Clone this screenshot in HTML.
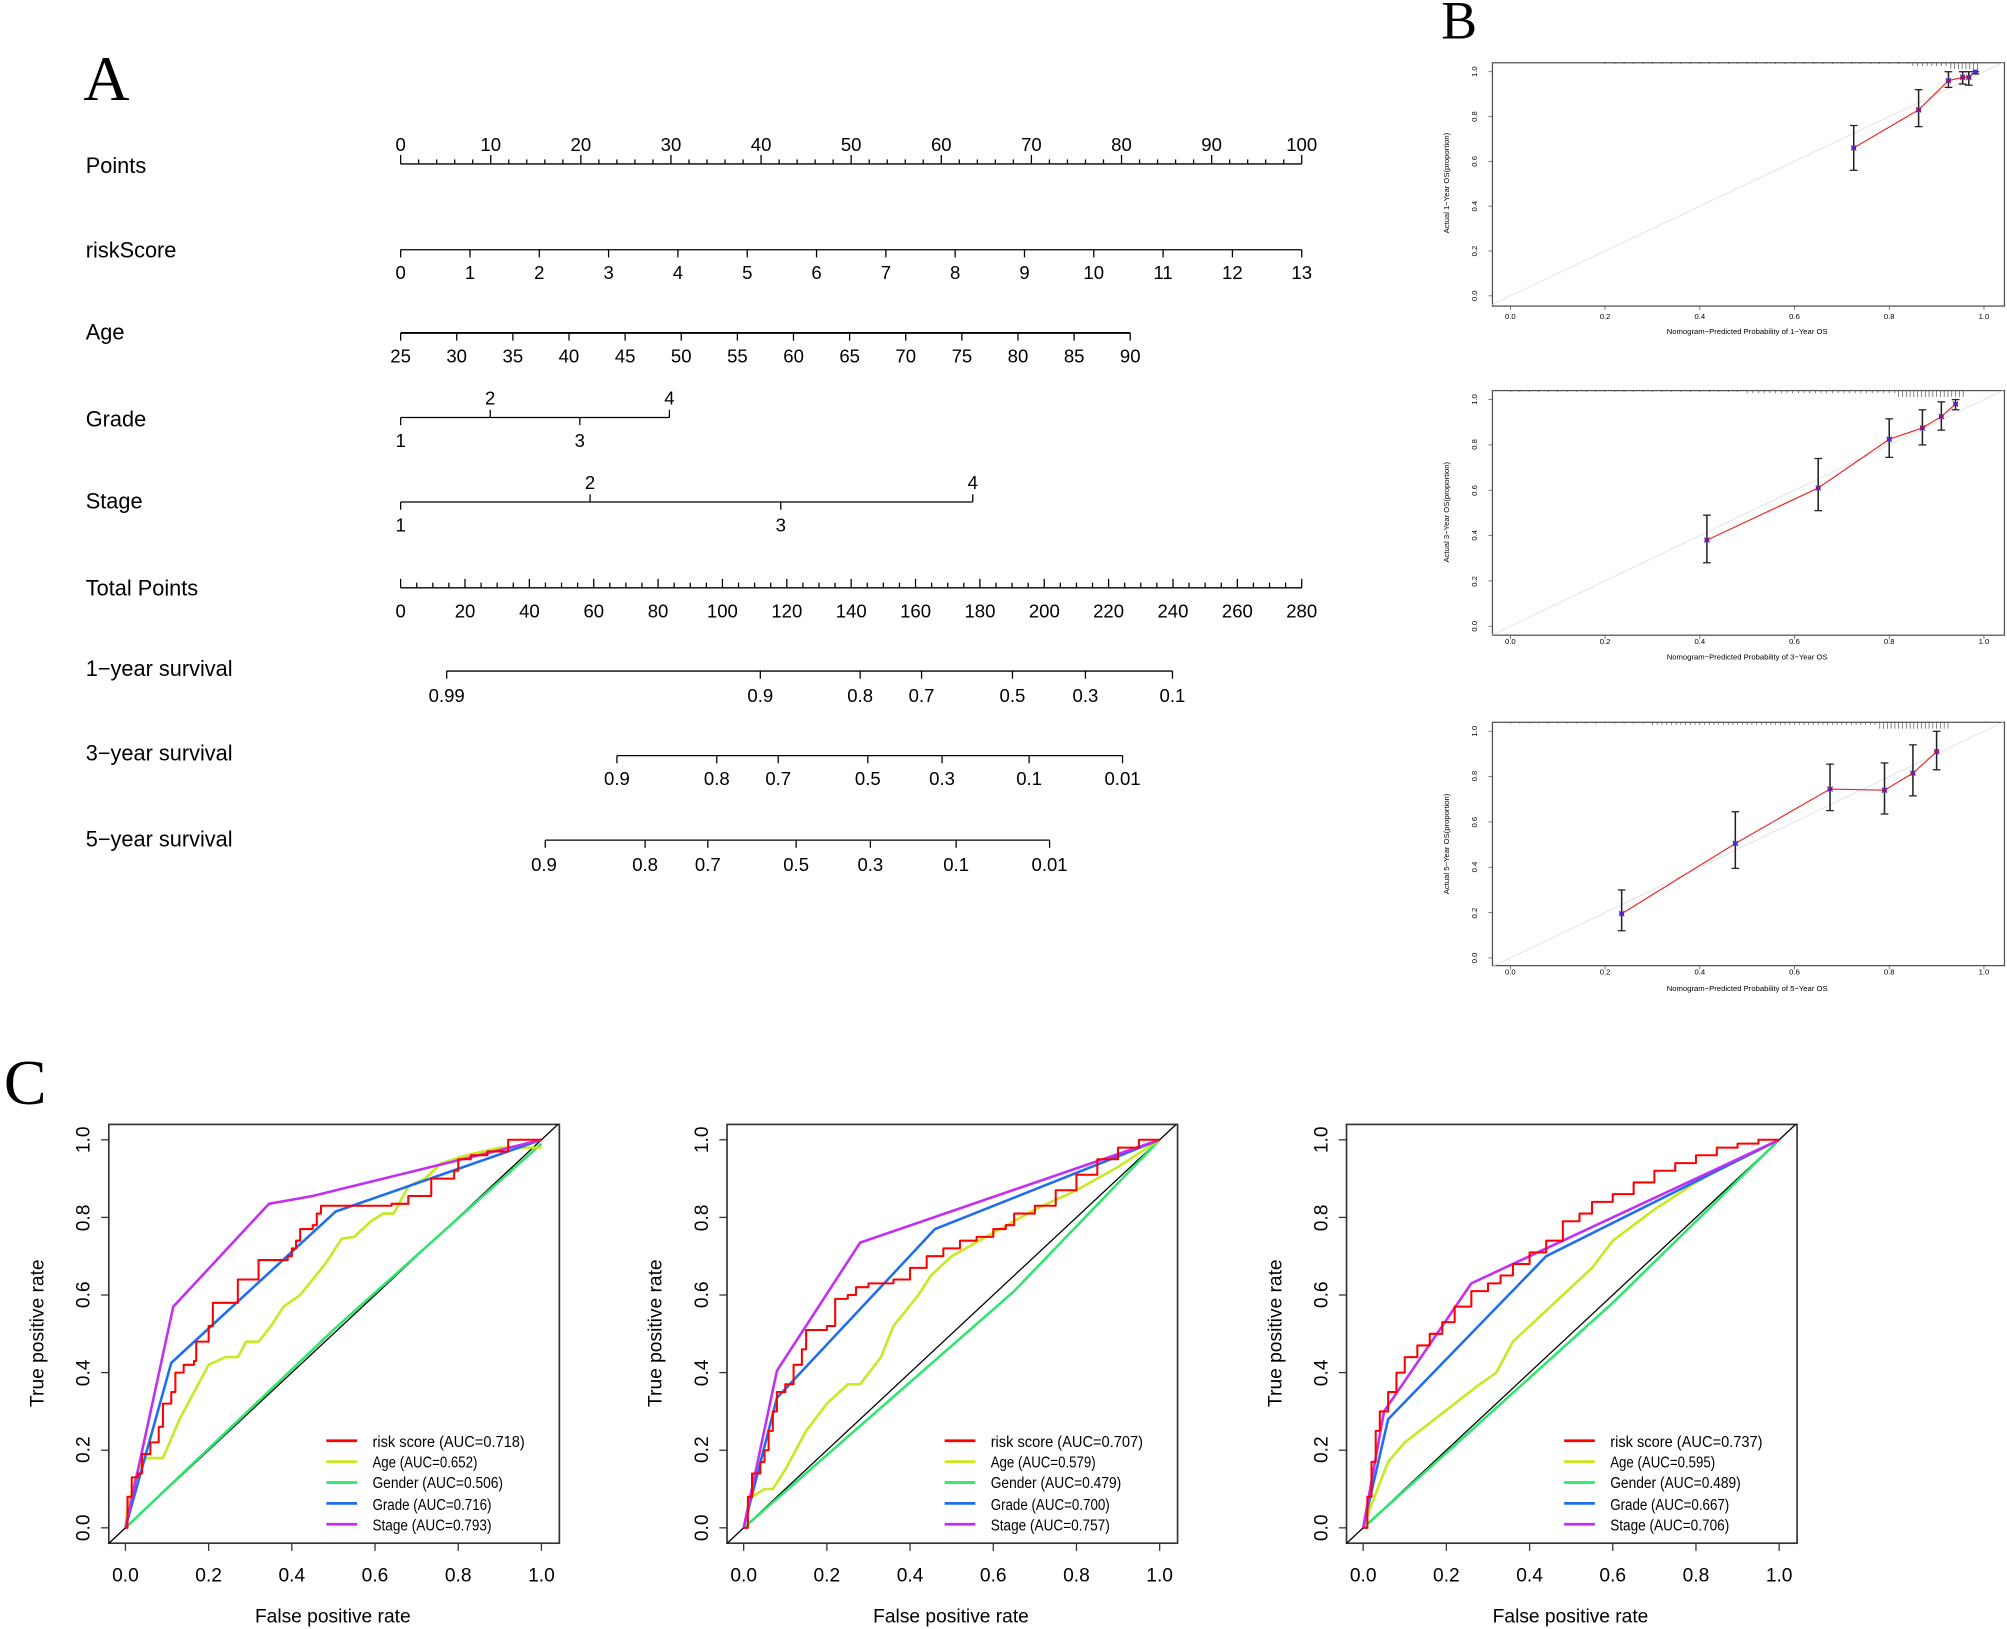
<!DOCTYPE html>
<html><head><meta charset="utf-8"><style>
html,body{margin:0;padding:0;background:#fff;}
svg{display:block;}
text{font-family:"Liberation Sans",sans-serif;fill:#000;}
.lab{font-size:17px;}
.tk{font-size:14.5px;text-anchor:middle;}
.bt{font-size:6px;text-anchor:middle;fill:#333;}
.ct{font-size:15px;text-anchor:middle;}
.lg{font-size:12.5px;}
</style></head><body>
<svg id="s" width="2007" height="1629" viewBox="0 0 1568 1272" preserveAspectRatio="none" xmlns="http://www.w3.org/2000/svg">
<rect width="1568" height="1272" fill="#fff"/>
<g id="g"></g>
<!-- Panel A -->
<text x="65" y="78" style="font-family:'Liberation Serif',serif;font-size:50px">A</text>
<g class="lab">
<text x="67" y="135">Points</text>
<text x="67" y="201">riskScore</text>
<text x="67" y="265">Age</text>
<text x="67" y="333">Grade</text>
<text x="67" y="397">Stage</text>
<text x="67" y="465">Total Points</text>
<text x="67" y="528">1−year survival</text>
<text x="67" y="594">3−year survival</text>
<text x="67" y="661">5−year survival</text>
</g>
<g class="tk">
<text x="313" y="118">0</text><text x="383.4" y="118">10</text><text x="453.8" y="118">20</text><text x="524.2" y="118">30</text><text x="594.6" y="118">40</text><text x="665" y="118">50</text><text x="735.4" y="118">60</text><text x="805.8" y="118">70</text><text x="876.2" y="118">80</text><text x="946.6" y="118">90</text><text x="1017" y="118">100</text>
<text x="313" y="218">0</text><text x="367.2" y="218">1</text><text x="421.3" y="218">2</text><text x="475.5" y="218">3</text><text x="529.6" y="218">4</text><text x="583.8" y="218">5</text><text x="637.9" y="218">6</text><text x="692.1" y="218">7</text><text x="746.2" y="218">8</text><text x="800.4" y="218">9</text><text x="854.5" y="218">10</text><text x="908.7" y="218">11</text><text x="962.8" y="218">12</text><text x="1017" y="218">13</text>
<text x="313" y="283">25</text><text x="356.8" y="283">30</text><text x="400.7" y="283">35</text><text x="444.5" y="283">40</text><text x="488.4" y="283">45</text><text x="532.2" y="283">50</text><text x="576.1" y="283">55</text><text x="620" y="283">60</text><text x="663.8" y="283">65</text><text x="707.6" y="283">70</text><text x="751.5" y="283">75</text><text x="795.3" y="283">80</text><text x="839.2" y="283">85</text><text x="883" y="283">90</text>
<text x="383" y="316">2</text><text x="523" y="316">4</text><text x="313" y="349">1</text><text x="453" y="349">3</text>
<text x="461" y="382">2</text><text x="760" y="382">4</text><text x="313" y="415">1</text><text x="610" y="415">3</text>
<text x="313" y="482">0</text><text x="363.3" y="482">20</text><text x="413.6" y="482">40</text><text x="463.9" y="482">60</text><text x="514.1" y="482">80</text><text x="564.4" y="482">100</text><text x="614.7" y="482">120</text><text x="665" y="482">140</text><text x="715.3" y="482">160</text><text x="765.6" y="482">180</text><text x="815.9" y="482">200</text><text x="866.1" y="482">220</text><text x="916.4" y="482">240</text><text x="966.7" y="482">260</text><text x="1017" y="482">280</text>
<text x="349" y="548">0.99</text><text x="594" y="548">0.9</text><text x="672" y="548">0.8</text><text x="720" y="548">0.7</text><text x="791" y="548">0.5</text><text x="848" y="548">0.3</text><text x="916" y="548">0.1</text>
<text x="482" y="613">0.9</text><text x="560" y="613">0.8</text><text x="608" y="613">0.7</text><text x="678" y="613">0.5</text><text x="736" y="613">0.3</text><text x="804" y="613">0.1</text><text x="877" y="613">0.01</text>
<text x="425" y="680">0.9</text><text x="504" y="680">0.8</text><text x="553" y="680">0.7</text><text x="622" y="680">0.5</text><text x="680" y="680">0.3</text><text x="747" y="680">0.1</text><text x="820" y="680">0.01</text>
</g>
<!-- Panel B -->
<text x="1126" y="30" style="font-family:'Liberation Serif',serif;font-size:42px">B</text>
<g class="bt">
<text x="1180" y="249">0.0</text><text x="1254" y="249">0.2</text><text x="1328" y="249">0.4</text><text x="1402" y="249">0.6</text><text x="1476" y="249">0.8</text><text x="1550" y="249">1.0</text>
<text x="1365" y="261">Nomogram−Predicted Probability of 1−Year OS</text>
<text x="1180" y="503">0.0</text><text x="1254" y="503">0.2</text><text x="1328" y="503">0.4</text><text x="1402" y="503">0.6</text><text x="1476" y="503">0.8</text><text x="1550" y="503">1.0</text>
<text x="1365" y="515">Nomogram−Predicted Probability of 3−Year OS</text>
<text x="1180" y="761">0.0</text><text x="1254" y="761">0.2</text><text x="1328" y="761">0.4</text><text x="1402" y="761">0.6</text><text x="1476" y="761">0.8</text><text x="1550" y="761">1.0</text>
<text x="1365" y="774">Nomogram−Predicted Probability of 5−Year OS</text>
</g>
<g class="bt">
<text transform="translate(1154,231) rotate(-90)">0.0</text><text transform="translate(1154,196) rotate(-90)">0.2</text><text transform="translate(1154,161) rotate(-90)">0.4</text><text transform="translate(1154,126) rotate(-90)">0.6</text><text transform="translate(1154,91) rotate(-90)">0.8</text><text transform="translate(1154,56) rotate(-90)">1.0</text>
<text transform="translate(1132,143) rotate(-90)">Actual 1−Year OS(proportion)</text>
<text transform="translate(1154,489) rotate(-90)">0.0</text><text transform="translate(1154,454) rotate(-90)">0.2</text><text transform="translate(1154,418) rotate(-90)">0.4</text><text transform="translate(1154,383) rotate(-90)">0.6</text><text transform="translate(1154,347) rotate(-90)">0.8</text><text transform="translate(1154,312) rotate(-90)">1.0</text>
<text transform="translate(1132,400) rotate(-90)">Actual 3−Year OS(proportion)</text>
<text transform="translate(1154,748) rotate(-90)">0.0</text><text transform="translate(1154,713) rotate(-90)">0.2</text><text transform="translate(1154,677) rotate(-90)">0.4</text><text transform="translate(1154,642) rotate(-90)">0.6</text><text transform="translate(1154,606) rotate(-90)">0.8</text><text transform="translate(1154,571) rotate(-90)">1.0</text>
<text transform="translate(1132,659) rotate(-90)">Actual 5−Year OS(proportion)</text>
</g>
<!-- Panel C -->
<text x="3" y="862" style="font-family:'Liberation Serif',serif;font-size:50px">C</text>
<g class="ct">
<text x="98" y="1235">0.0</text><text x="163" y="1235">0.2</text><text x="228" y="1235">0.4</text><text x="293" y="1235">0.6</text><text x="358" y="1235">0.8</text><text x="423" y="1235">1.0</text>
<text x="260" y="1267">False positive rate</text>
<text transform="translate(34,1041) rotate(-90)">True positive rate</text>
<text transform="translate(70,1193) rotate(-90)">0.0</text><text transform="translate(70,1132) rotate(-90)">0.2</text><text transform="translate(70,1072) rotate(-90)">0.4</text><text transform="translate(70,1011) rotate(-90)">0.6</text><text transform="translate(70,951) rotate(-90)">0.8</text><text transform="translate(70,890) rotate(-90)">1.0</text>
</g>
<g class="ct" transform="translate(483,0)">
<text x="98" y="1235">0.0</text><text x="163" y="1235">0.2</text><text x="228" y="1235">0.4</text><text x="293" y="1235">0.6</text><text x="358" y="1235">0.8</text><text x="423" y="1235">1.0</text>
<text x="260" y="1267">False positive rate</text>
<text transform="translate(34,1041) rotate(-90)">True positive rate</text>
<text transform="translate(70,1193) rotate(-90)">0.0</text><text transform="translate(70,1132) rotate(-90)">0.2</text><text transform="translate(70,1072) rotate(-90)">0.4</text><text transform="translate(70,1011) rotate(-90)">0.6</text><text transform="translate(70,951) rotate(-90)">0.8</text><text transform="translate(70,890) rotate(-90)">1.0</text>
</g>
<g class="ct" transform="translate(967,0)">
<text x="98" y="1235">0.0</text><text x="163" y="1235">0.2</text><text x="228" y="1235">0.4</text><text x="293" y="1235">0.6</text><text x="358" y="1235">0.8</text><text x="423" y="1235">1.0</text>
<text x="260" y="1267">False positive rate</text>
<text transform="translate(34,1041) rotate(-90)">True positive rate</text>
<text transform="translate(70,1193) rotate(-90)">0.0</text><text transform="translate(70,1132) rotate(-90)">0.2</text><text transform="translate(70,1072) rotate(-90)">0.4</text><text transform="translate(70,1011) rotate(-90)">0.6</text><text transform="translate(70,951) rotate(-90)">0.8</text><text transform="translate(70,890) rotate(-90)">1.0</text>
</g>
<g class="lg">
<text x="291" y="1130" textLength="119" lengthAdjust="spacingAndGlyphs">risk score (AUC=0.718)</text>
<text x="291" y="1146" textLength="82" lengthAdjust="spacingAndGlyphs">Age (AUC=0.652)</text>
<text x="291" y="1162" textLength="102" lengthAdjust="spacingAndGlyphs">Gender (AUC=0.506)</text>
<text x="291" y="1179" textLength="93" lengthAdjust="spacingAndGlyphs">Grade (AUC=0.716)</text>
<text x="291" y="1195" textLength="93" lengthAdjust="spacingAndGlyphs">Stage (AUC=0.793)</text>
</g>
<g class="lg" transform="translate(483,0)">
<text x="291" y="1130" textLength="119" lengthAdjust="spacingAndGlyphs">risk score (AUC=0.707)</text>
<text x="291" y="1146" textLength="82" lengthAdjust="spacingAndGlyphs">Age (AUC=0.579)</text>
<text x="291" y="1162" textLength="102" lengthAdjust="spacingAndGlyphs">Gender (AUC=0.479)</text>
<text x="291" y="1179" textLength="93" lengthAdjust="spacingAndGlyphs">Grade (AUC=0.700)</text>
<text x="291" y="1195" textLength="93" lengthAdjust="spacingAndGlyphs">Stage (AUC=0.757)</text>
</g>
<g class="lg" transform="translate(967,0)">
<text x="291" y="1130" textLength="119" lengthAdjust="spacingAndGlyphs">risk score (AUC=0.737)</text>
<text x="291" y="1146" textLength="82" lengthAdjust="spacingAndGlyphs">Age (AUC=0.595)</text>
<text x="291" y="1162" textLength="102" lengthAdjust="spacingAndGlyphs">Gender (AUC=0.489)</text>
<text x="291" y="1179" textLength="93" lengthAdjust="spacingAndGlyphs">Grade (AUC=0.667)</text>
<text x="291" y="1195" textLength="93" lengthAdjust="spacingAndGlyphs">Stage (AUC=0.706)</text>
</g>
</svg>
<script>
(function(){
var g=document.getElementById('g'),NS='http://www.w3.org/2000/svg';
function el(t,a){var e=document.createElementNS(NS,t);for(var k in a)e.setAttribute(k,a[k]);g.appendChild(e);return e;}
function ln(x1,y1,x2,y2,c,w){el('line',{x1:x1,y1:y1,x2:x2,y2:y2,stroke:c||'#000','stroke-width':w||1});}
ln(313,128,1017,128);for(var i=0;i<=50;i++){var x=313+i*14.08;ln(x,128,x,i%5==0?121:124.5);}
ln(313,195,1017,195);for(i=0;i<=13;i++){x=313+i*54.154;ln(x,195,x,201);}
ln(313,260,883,260,'#000',1.5);for(i=0;i<=13;i++){x=313+i*43.846;ln(x,260,x,266);}
ln(313,326,523,326);ln(313,326,313,332);ln(453,326,453,332);ln(383,326,383,320);ln(523,326,523,320);
ln(313,392,760,392);ln(313,392,313,398);ln(610,392,610,398);ln(461,392,461,386);ln(760,392,760,386);
ln(313,459,1017,459);for(i=0;i<=56;i++){x=313+i*12.571;ln(x,459,x,i%4==0?452:455);}
function surv(y,xs){ln(xs[0],y,xs[xs.length-1],y);xs.forEach(function(x){ln(x,y,x,y+6);});}
surv(524,[349,594,672,720,791,848,916]);
surv(590,[482,560,608,678,736,804,877]);
surv(656,[426,504,553,622,680,747,820]);
function cal(top,bot,y0,y1,pts,rug){
 el('rect',{x:1166,y:top,width:400,height:bot-top,fill:'none',stroke:'#555','stroke-width':1});
 function X(v){return 1180+370*v;} function Y(v){return y0+(y1-y0)*v;}
 for(var k=0;k<=5;k++){ln(X(k/5),bot,X(k/5),bot+3,'#555',0.6);ln(1166,Y(k/5),1163,Y(k/5),'#555',0.6);}
 ln(X(-0.04),Y(-0.04),X(1.04),Y(1.04),'#ddd',0.6);
 var d='';pts.forEach(function(p,j){d+=(j?'L':'M')+X(p[0])+' '+Y(p[1]);});
 el('path',{d:d,fill:'none',stroke:'#e22','stroke-width':0.9});
 pts.forEach(function(p){var x=X(p[0]);ln(x,Y(p[2]),x,Y(p[3]),'#222',1.2);ln(x-3,Y(p[2]),x+3,Y(p[2]),'#222',1);ln(x-3,Y(p[3]),x+3,Y(p[3]),'#222',1);
  el('rect',{x:x-1.8,y:Y(p[1])-1.5,width:3.6,height:3,fill:'#c00'});ln(x-2,Y(p[1])-2,x+2,Y(p[1])+2,'#33f',0.8);ln(x-2,Y(p[1])+2,x+2,Y(p[1])-2,'#33f',0.8);});
 for(var r=0;r<rug.length;r++){var rr=rug[r];for(var v=rr[0];v<=rr[1];v+=rr[2]){ln(X(v),top,X(v),top+rr[3],'#444',0.5);}}
}
cal(49,239,231,56,[[0.725,0.66,0.56,0.76],[0.862,0.83,0.755,0.92],[0.925,0.96,0.93,1.0],[0.955,0.975,0.945,1.0],[0.968,0.975,0.94,1.0],[0.982,1.0,0.99,1.0]],[[0.2,0.85,0.02,1],[0.85,0.93,0.01,2.5],[0.93,0.99,0.008,5]]);
cal(305,496,489,312,[[0.415,0.38,0.28,0.49],[0.65,0.61,0.51,0.74],[0.80,0.825,0.745,0.915],[0.87,0.875,0.80,0.955],[0.91,0.925,0.865,0.99],[0.94,0.98,0.955,1.0]],[[0.0,0.5,0.02,1],[0.5,0.82,0.012,2],[0.82,0.96,0.008,5]]);
cal(564,754,748,571,[[0.235,0.195,0.12,0.30],[0.475,0.505,0.395,0.645],[0.675,0.745,0.65,0.855],[0.79,0.74,0.635,0.86],[0.85,0.815,0.715,0.94],[0.90,0.91,0.83,1.0]],[[0.0,0.3,0.02,1],[0.3,0.78,0.01,2],[0.78,0.93,0.008,5]]);
var C={r:'#f00',a:'#c5ea1e',g:'#2ee66e',b:'#1f6ef0',s:'#c42ef2'};
function roc(off,curves){
 function X(v){return off+98+325*v;} function Y(v){return 1193-303*v;}
 el('rect',{x:off+85,y:878,width:352,height:327,fill:'none',stroke:'#333','stroke-width':1.3});
 for(var k=0;k<=5;k++){ln(X(k/5),1205,X(k/5),1211,'#333',1);ln(off+85,Y(k/5),off+79,Y(k/5),'#333',1);}
 ln(X(-0.04),Y(-0.04),X(1.04),Y(1.04),'#000',1);
 ['g','a','b','s','r'].forEach(function(key){var p=curves[key],d='';
  p.forEach(function(q,j){d+=(j?'L':'M')+X(q[0]).toFixed(1)+' '+Y(q[1]).toFixed(1);});
  el('path',{d:d,fill:'none',stroke:C[key],'stroke-width':key=='r'?1.6:2,'stroke-linejoin':'round'});});
 ['r','a','g','b','s'].forEach(function(key,j){ln(off+255,1125+j*16.3,off+279,1125+j*16.3,C[key],2.2);});
}
function step(p){var o=[p[0]];for(var i=1;i<p.length;i++){o.push([p[i][0],p[i-1][1]]);o.push(p[i]);}return o;}
roc(0,{s:[[0,0],[0.115,0.57],[0.345,0.835],[0.45,0.855],[1,1]],b:[[0,0],[0.11,0.425],[0.505,0.815],[1,1]],g:[[0,0],[0.5,0.51],[1,0.99]],
a:[[0,0],[0.005,0.05],[0.03,0.15],[0.05,0.18],[0.09,0.18],[0.13,0.28],[0.16,0.34],[0.2,0.42],[0.24,0.44],[0.27,0.44],[0.29,0.48],[0.32,0.48],[0.35,0.52],[0.38,0.57],[0.42,0.6],[0.48,0.68],[0.52,0.745],[0.55,0.75],[0.59,0.79],[0.62,0.81],[0.645,0.81],[0.68,0.88],[0.72,0.9],[0.76,0.94],[0.82,0.96],[0.9,0.98],[1,0.98]],
r:step([[0,0],[0.005,0.08],[0.015,0.13],[0.03,0.14],[0.04,0.19],[0.06,0.22],[0.08,0.26],[0.09,0.32],[0.11,0.35],[0.12,0.40],[0.14,0.42],[0.165,0.43],[0.17,0.48],[0.2,0.52],[0.21,0.58],[0.27,0.64],[0.32,0.69],[0.39,0.70],[0.4,0.72],[0.41,0.74],[0.42,0.77],[0.45,0.78],[0.46,0.81],[0.47,0.83],[0.64,0.835],[0.68,0.855],[0.735,0.9],[0.79,0.92],[0.8,0.95],[0.83,0.96],[0.87,0.97],[0.92,1.0],[1,1]])});
roc(483,{s:[[0,0],[0.08,0.405],[0.28,0.735],[1,1]],b:[[0,0],[0.08,0.335],[0.46,0.77],[1,1]],g:[[0,0],[0.65,0.61],[1,1]],
a:[[0,0],[0.01,0.05],[0.02,0.08],[0.05,0.1],[0.07,0.1],[0.1,0.15],[0.15,0.25],[0.2,0.32],[0.25,0.37],[0.28,0.37],[0.33,0.44],[0.36,0.52],[0.42,0.6],[0.45,0.65],[0.5,0.7],[0.55,0.73],[0.6,0.76],[0.7,0.82],[0.8,0.87],[0.9,0.93],[1,1]],
r:step([[0,0],[0.01,0.08],[0.02,0.14],[0.04,0.17],[0.05,0.2],[0.06,0.25],[0.07,0.3],[0.08,0.35],[0.1,0.37],[0.12,0.42],[0.14,0.46],[0.15,0.51],[0.2,0.52],[0.22,0.59],[0.25,0.6],[0.27,0.62],[0.3,0.63],[0.36,0.64],[0.4,0.67],[0.44,0.7],[0.48,0.72],[0.52,0.74],[0.56,0.75],[0.6,0.77],[0.63,0.78],[0.65,0.81],[0.7,0.83],[0.75,0.87],[0.8,0.91],[0.85,0.95],[0.9,0.98],[0.95,1],[1,1]])});
roc(967,{s:[[0,0],[0.05,0.3],[0.26,0.63],[1,1]],b:[[0,0],[0.06,0.28],[0.44,0.7],[1,1]],g:[[0,0],[0.6,0.58],[1,1]],
a:[[0,0],[0.02,0.06],[0.06,0.17],[0.1,0.22],[0.16,0.27],[0.22,0.32],[0.28,0.37],[0.32,0.4],[0.36,0.48],[0.42,0.54],[0.48,0.6],[0.55,0.67],[0.6,0.74],[0.7,0.82],[0.8,0.89],[0.9,0.95],[1,1]],
r:step([[0,0],[0.01,0.08],[0.02,0.17],[0.03,0.25],[0.04,0.3],[0.06,0.35],[0.08,0.4],[0.1,0.44],[0.13,0.47],[0.16,0.5],[0.19,0.53],[0.22,0.57],[0.26,0.61],[0.3,0.63],[0.33,0.65],[0.36,0.68],[0.4,0.71],[0.44,0.74],[0.48,0.79],[0.52,0.81],[0.55,0.84],[0.6,0.86],[0.65,0.89],[0.7,0.92],[0.75,0.94],[0.8,0.96],[0.85,0.98],[0.9,0.99],[0.95,1],[1,1]])});
})();
</script>
</body></html>
